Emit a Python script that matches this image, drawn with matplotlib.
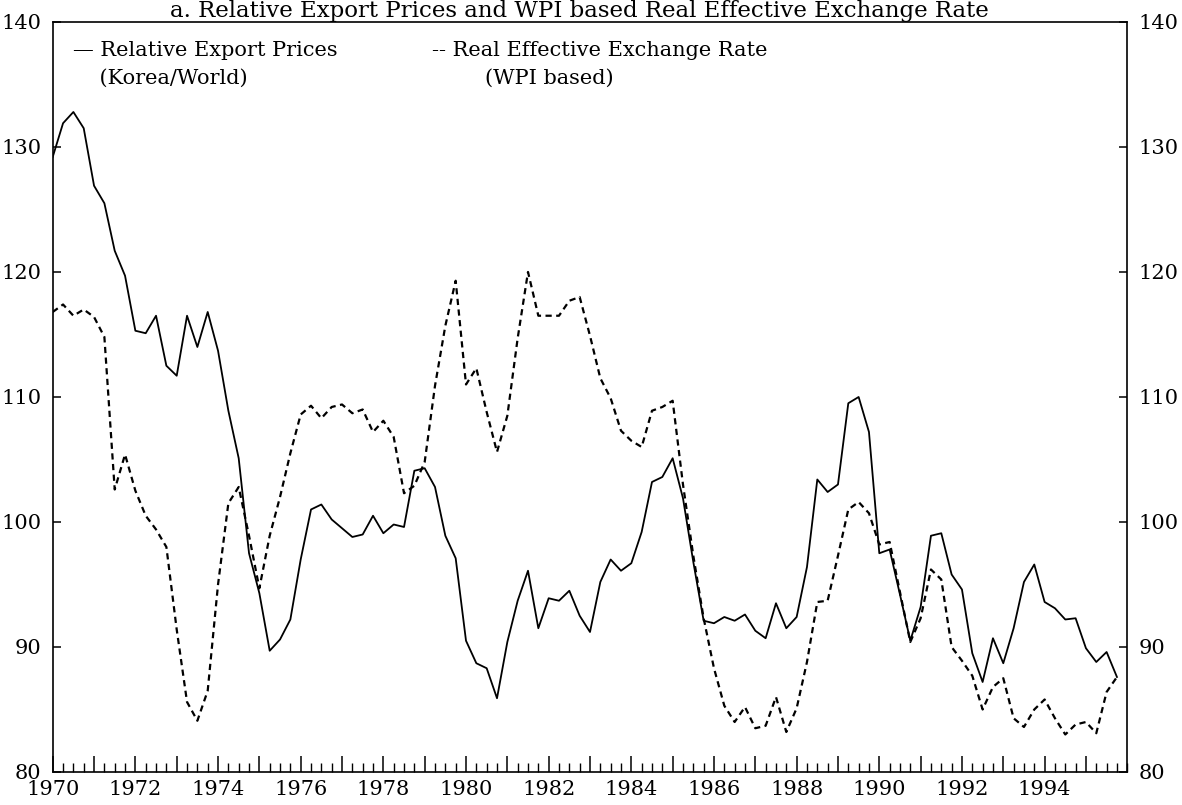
import numpy as np
import matplotlib.pyplot as plt
from matplotlib.ticker import FixedLocator, MultipleLocator

# quarterly data, 1970Q1 - 1995Q4
start_year = 1970
rel_export_prices = [
    129.2, 131.9, 132.8, 131.5, 126.9, 125.5, 121.7, 119.7,
    115.3, 115.1, 116.5, 112.5, 111.7, 116.5, 114.0, 116.8,
    113.7, 108.9, 105.1, 97.5, 94.3, 89.7, 90.6, 92.2,
    97.0, 101.0, 101.4, 100.2, 99.5, 98.8, 99.0, 100.5,
    99.1, 99.8, 99.6, 104.1, 104.3, 102.8, 98.9, 97.1,
    90.5, 88.7, 88.3, 85.9, 90.4, 93.7, 96.1, 91.5,
    93.9, 93.7, 94.5, 92.5, 91.2, 95.2, 97.0, 96.1,
    96.7, 99.2, 103.2, 103.6, 105.1, 101.9, 96.8, 92.1,
    91.9, 92.4, 92.1, 92.6, 91.3, 90.7, 93.5, 91.5,
    92.4, 96.4, 103.4, 102.4, 103.0, 109.5, 110.0, 107.2,
    97.5, 97.8, 94.2, 90.5, 93.2, 98.9, 99.1, 95.8,
    94.6, 89.5, 87.2, 90.7, 88.7, 91.5, 95.2, 96.6,
    93.6, 93.1, 92.2, 92.3, 89.9, 88.8, 89.6, 87.6,
]
reer_wpi = [
    116.8, 117.4, 116.5, 117.0, 116.4, 114.8, 102.6, 105.4,
    102.5, 100.5, 99.4, 98.0, 91.4, 85.6, 84.1, 86.5,
    95.0, 101.5, 102.8, 98.9, 94.7, 98.9, 102.0, 105.5,
    108.6, 109.3, 108.3, 109.2, 109.4, 108.7, 109.0, 107.2,
    108.1, 106.8, 102.3, 102.9, 104.8, 110.9, 115.7, 119.3,
    111.0, 112.3, 108.8, 105.6, 108.5, 114.7, 120.0, 116.5,
    116.5, 116.5, 117.7, 118.0, 114.9, 111.5, 109.9, 107.3,
    106.5, 106.0, 108.9, 109.2, 109.7, 103.0, 97.3, 92.3,
    88.3, 85.3, 84.0, 85.2, 83.5, 83.7, 86.0, 83.2,
    85.1, 88.8, 93.6, 93.7, 97.3, 101.0, 101.6, 100.7,
    98.2, 98.4, 94.4, 90.4, 92.3, 96.2, 95.4, 90.0,
    88.9, 87.7, 85.0, 86.8, 87.5, 84.3, 83.6, 85.0,
    85.8, 84.3, 83.0, 83.8, 84.0, 83.1, 86.4, 87.6,
]
years = np.arange(1970, 1996)
year_labels = [str(y) if y % 2 == 0 else '' for y in years]
y_ticks = [80, 90, 100, 110, 120, 130, 140]

title = 'a. Relative Export Prices and WPI based Real Effective Exchange Rate'

plt.rcParams['font.family'] = ['DejaVu Serif']

t = start_year + np.arange(len(rel_export_prices)) / 4.0

fig = plt.figure(figsize=(11.82, 8.05), dpi=100)
ax = fig.add_axes([0.0446, 0.041, 0.9091, 0.9317])

ax.plot(t, rel_export_prices, color='black', lw=1.3)
ax.plot(t, reer_wpi, color='black', lw=1.6, dashes=(2.8, 2.0))

ax.set_xlim(1970, 1996)
ax.set_ylim(80, 140)

ax.xaxis.set_major_locator(FixedLocator(years))
ax.set_xticklabels(year_labels)
ax.xaxis.set_minor_locator(MultipleLocator(0.25))
ax.set_yticks(y_ticks)

ax.tick_params(axis='x', which='major', direction='in', length=11.5, width=1.1,
               labelsize=15, pad=6, top=False)
ax.tick_params(axis='x', which='minor', direction='in', length=6.5, width=1.0, top=False)
ax.tick_params(axis='y', which='both', direction='in', length=6, width=1.1,
               labelsize=15, pad=8, left=True, right=True, labelleft=True, labelright=True)
for s in ax.spines.values():
    s.set_linewidth(1.2)

# legend written as text, like the original
ax.text(0.019, 0.975, '\u2014 Relative Export Prices', transform=ax.transAxes,
        fontsize=15, va='top', ha='left')
ax.text(0.019, 0.937, '    (Korea/World)', transform=ax.transAxes,
        fontsize=15, va='top', ha='left')
ax.text(0.353, 0.975, '-- Real Effective Exchange Rate', transform=ax.transAxes,
        fontsize=15, va='top', ha='left')
ax.text(0.353, 0.937, '        (WPI based)', transform=ax.transAxes,
        fontsize=15, va='top', ha='left')

fig.text(0.49, 1 - 17 / 805, title, ha='center', va='baseline', fontsize=16.5)

fig.savefig('out.png', dpi=100)
